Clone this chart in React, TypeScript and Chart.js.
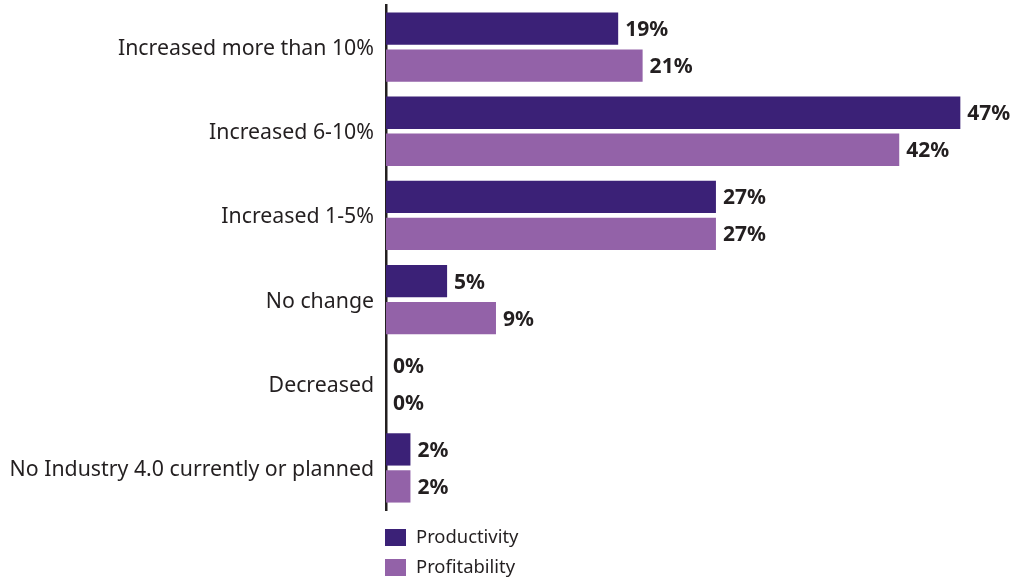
import React, { useEffect, useRef } from "react";
import { Chart, registerables } from "chart.js";

Chart.register(...registerables);

const categories = [
  "Increased more than 10%",
  "Increased 6-10%",
  "Increased 1-5%",
  "No change",
  "Decreased",
  "No Industry 4.0 currently or planned",
];
const productivity = [19, 47, 27, 5, 0, 2];
const profitability = [21, 42, 27, 9, 0, 2];
const seriesNames = ["Productivity", "Profitability"];
const seriesColors = ["#3b2177", "#9362a8"];
const textColor = "#231f20";
const fontFamily = "'Noto Sans', 'Open Sans', sans-serif";

const valueLabels = {
  id: "valueLabels",
  afterDatasetsDraw(chart: any) {
    const ctx = chart.ctx;
    ctx.save();
    ctx.font = `bold 21px ${fontFamily}`;
    ctx.fillStyle = textColor;
    ctx.textAlign = "left";
    ctx.textBaseline = "middle";
    chart.data.datasets.forEach((ds: any, i: number) => {
      const meta = chart.getDatasetMeta(i);
      meta.data.forEach((bar: any, j: number) => {
        ctx.fillText(`${ds.data[j]}%`, bar.x + 7, bar.y + 1.5);
      });
    });
    ctx.restore();
  },
};

const customLegend = {
  id: "customLegend",
  afterDraw(chart: any) {
    const ctx = chart.ctx;
    const left = chart.chartArea.left - 1;
    ctx.save();
    ctx.font = `18.4px ${fontFamily}`;
    ctx.textAlign = "left";
    ctx.textBaseline = "middle";
    seriesNames.forEach((name, i) => {
      const y = 529 + i * 30;
      ctx.fillStyle = seriesColors[i];
      ctx.fillRect(left, y, 21, 17);
      ctx.fillStyle = textColor;
      ctx.fillText(name, left + 31, y + 9);
    });
    ctx.restore();
  },
};

export default function App() {
  const ref = useRef<HTMLCanvasElement>(null);
  useEffect(() => {
    if (!ref.current) return;
    const chart = new Chart(ref.current, {
      type: "bar",
      data: {
        labels: categories,
        datasets: [
          {
            label: seriesNames[0],
            data: productivity,
            backgroundColor: seriesColors[0],
            barPercentage: 0.873,
            categoryPercentage: 0.879,
          },
          {
            label: seriesNames[1],
            data: profitability,
            backgroundColor: seriesColors[1],
            barPercentage: 0.873,
            categoryPercentage: 0.879,
          },
        ],
      },
      options: {
        indexAxis: "y",
        animation: false,
        responsive: true,
        maintainAspectRatio: false,
        layout: { padding: { top: 5, right: 16, bottom: 69, left: 0 } },
        plugins: {
          legend: { display: false },
          tooltip: { enabled: false },
        },
        scales: {
          x: {
            min: 0,
            max: 50,
            display: false,
          },
          y: {
            grid: { display: false, drawTicks: false },
            border: { display: true, color: textColor, width: 2.5 },
            ticks: {
              color: textColor,
              padding: 12,
              labelOffset: 2,
              font: { family: fontFamily, size: 21.3 },
            },
            afterFit(scale: any) {
              scale.width = 386;
              scale.paddingTop = 0;
              scale.paddingBottom = 0;
            },
          },
        },
      },
      plugins: [valueLabels, customLegend],
    });
    return () => chart.destroy();
  }, []);
  return (
    <div style={{ position: "fixed", left: 0, top: 0, width: 1013, height: 579 }}>
      <canvas ref={ref} />
    </div>
  );
}
